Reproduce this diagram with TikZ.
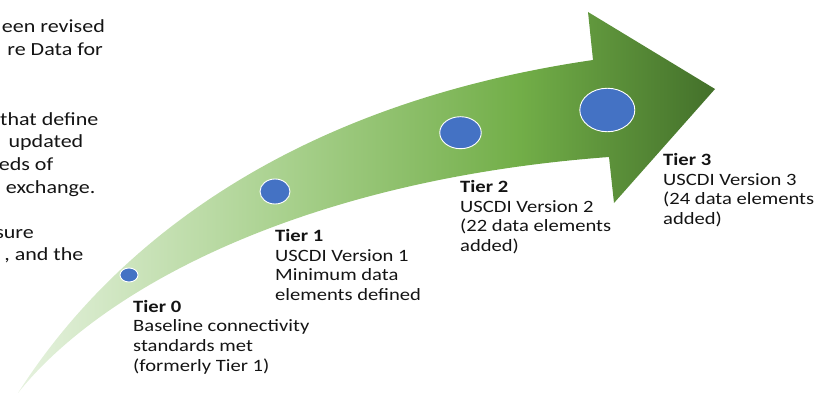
\documentclass[tikz,border=0pt]{standalone}
\usepackage{fontspec}
\setmainfont{Carlito}[FakeStretch=1.19]
\usetikzlibrary{shapes.geometric}
\definecolor{ink}{HTML}{141414}
\definecolor{gA}{HTML}{E6F2DF}
\definecolor{gB}{HTML}{A9D18E}
\definecolor{gC}{HTML}{72AE48}
\definecolor{gD}{HTML}{43702A}
\definecolor{dotblue}{HTML}{4472C4}
% left-to-right green ramp; the middle 25bp..75bp band maps onto the path
\pgfdeclarehorizontalshading{arrowgreen}{100bp}{%
  color(0bp)=(gA); color(25bp)=(gA); color(44bp)=(gB);
  color(61bp)=(gC); color(75bp)=(gD); color(100bp)=(gD)}
\begin{document}
\begin{tikzpicture}[x=1pt,y=-1pt,
  tierdot/.style={ellipse,fill=dotblue,draw=white,line width=0.9pt,inner sep=0pt},
  % anchored at the baseline of the last line
  tiertext/.style={anchor=base west,align=left,inner sep=0pt,text=ink,
    font=\fontsize{17.3}{19.6}\selectfont},
  sidetext/.style={anchor=base east,inner sep=0pt,text=ink,
    font=\fontsize{18.5}{22}\selectfont}]
\useasboundingbox (0,0) rectangle (821,393);

% curved arrow
\path[shading=arrowgreen]
  (18,393) .. controls (90,280) and (250,110) .. (593,60)
  -- (588,12) -- (715,89) -- (614,203) -- (609,157)
  .. controls (300,180) and (100,290) .. (18,393) -- cycle;

% milestones on the arrow
\node[tierdot,minimum width=18pt,minimum height=14pt] (d0) at (129,275) {};
\node[tierdot,minimum width=30pt,minimum height=25pt] (d1) at (275,191.5) {};
\node[tierdot,minimum width=41.5pt,minimum height=32pt] (d2) at (460.5,132.7) {};
\node[tierdot,minimum width=55pt,minimum height=43.5pt] (d3) at (607.3,110) {};

% tier labels
\node[tiertext] (t0) at (133,371) {\textbf{Tier 0}\\Baseline connectivity\\standards met\\(formerly Tier 1)};
\node[tiertext] (t1) at (275,300.5) {\textbf{Tier 1}\\USCDI Version 1\\Minimum data\\elements defined};
\node[tiertext] (t2) at (460,251.5) {\textbf{Tier 2}\\USCDI Version 2\\(22 data elements\\added)};
\node[tiertext] (t3) at (663,224.5) {\textbf{Tier 3}\\USCDI Version 3\\(24 data elements\\added)};

% running text at the left edge
\node[sidetext] (l1) at (105,33) {een revised};
\node[sidetext] (l2) at (103,56) {re Data for};
\node[sidetext] (l3) at (98.5,125) {that define};
\node[sidetext] (l4) at (83.5,147) {updated};
\node[sidetext] (l5) at (53.5,170) {eds of};
\node[sidetext] (l6) at (95.5,193) {exchange.};
\node[sidetext] (l7) at (34,238) {sure};
\node[sidetext] (l8) at (83.5,260) {, and the};
\end{tikzpicture}
\end{document}
